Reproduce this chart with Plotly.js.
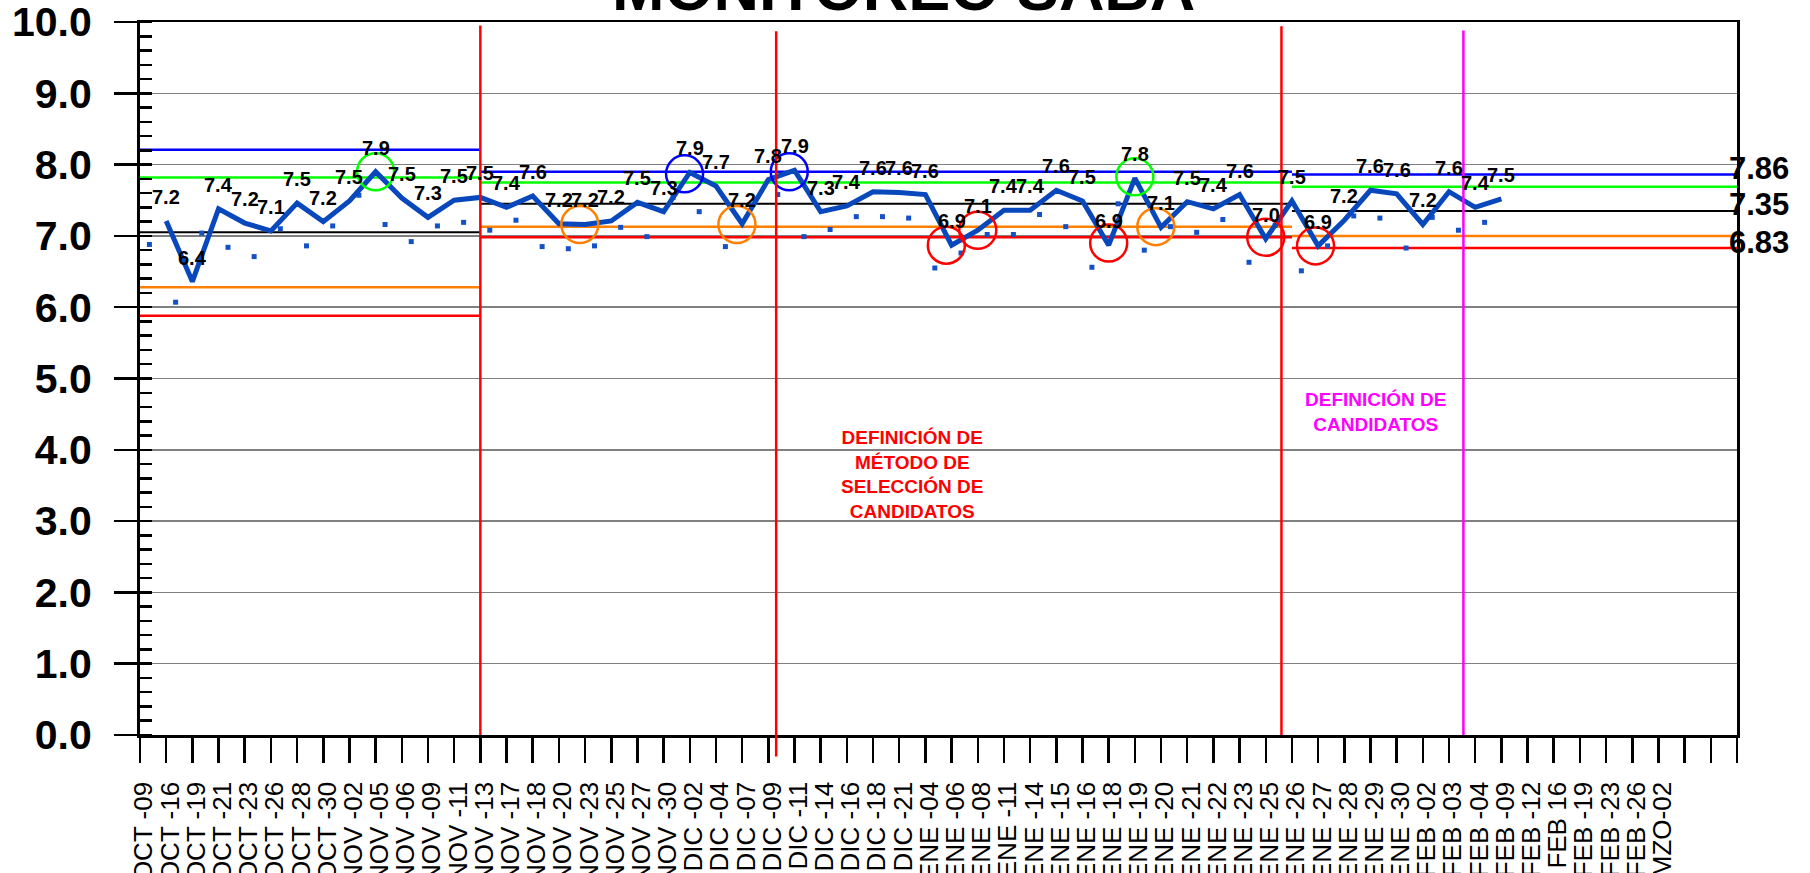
<!DOCTYPE html>
<html><head><meta charset="utf-8">
<script src="https://cdn.plot.ly/plotly-3.0.1.min.js"></script>
<style>html,body{margin:0;padding:0;background:#fff;overflow:hidden}#chart{width:1810px;height:873px}</style>
</head><body><div id="chart"></div>
<script>
// ---- data ----
const fechas = ["OCT -09","OCT -16","OCT -19","OCT -21","OCT -23","OCT -26","OCT -28","OCT -30",
 "NOV -02","NOV -05","NOV -06","NOV -09","NOV -11","NOV -13","NOV -17","NOV -18","NOV -20","NOV -23","NOV -25","NOV -27","NOV -30",
 "DIC -02","DIC -04","DIC -07","DIC -09","DIC -11","DIC -14","DIC -16","DIC -18","DIC -21",
 "ENE -04","ENE -06","ENE -08","ENE -11","ENE -14","ENE -15","ENE -16","ENE -18","ENE -19","ENE -20","ENE -21","ENE -22","ENE -23","ENE -25","ENE -26","ENE -27","ENE -28","ENE -29","ENE -30",
 "FEB -02","FEB -03","FEB -04","FEB -09","FEB -12","FEB 16","FEB -19","FEB -23","FEB -26","MZO-02"];
const promedio = [7.21,6.36,7.38,7.18,7.07,7.46,7.20,7.49,7.90,7.53,7.26,7.50,7.54,7.40,7.56,7.17,7.16,7.21,7.47,7.34,
 7.89,7.70,7.17,7.79,7.92,7.34,7.42,7.62,7.61,7.58,6.87,7.08,7.36,7.36,7.64,7.49,6.87,7.81,7.12,7.48,
 7.38,7.58,6.96,7.49,6.86,7.22,7.64,7.59,7.16,7.62,7.40,7.52];
const puntual = [6.88,6.07,7.04,6.84,6.71,7.10,6.86,7.14,7.57,7.16,6.92,7.14,7.19,7.08,7.22,6.85,6.82,6.86,7.12,6.99,
 7.54,7.34,6.85,7.43,7.58,6.99,7.09,7.27,7.27,7.25,6.55,6.76,7.02,7.02,7.30,7.13,6.56,7.45,6.80,7.13,
 7.05,7.23,6.63,7.15,6.51,6.86,7.28,7.25,6.83,7.26,7.08,7.19];
const tramoInicio = [0, 13, 44];
const tramoFin = [13, 44, 61];
const limiteSuperior = [8.21, 7.90, 7.86];
const alertaSuperior = [7.82, 7.75, 7.69];
const media = [7.05, 7.45, 7.35];
const alertaInferior = [6.28, 7.13, 7.00];
const limiteInferior = [5.88, 6.98, 6.83];
const circuloX = [9, 16.8, 20.8, 22.8, 24.8, 30.8, 32, 37, 38, 38.8, 43, 44.9];
const circuloY = [7.90, 7.16, 7.87, 7.16, 7.90, 6.87, 7.08, 6.90, 7.83, 7.13, 6.98, 6.86];
const circuloTipo = ["verde","naranja","azul","naranja","azul","rojo","rojo","rojo","verde","naranja","rojo","rojo"];
const eventoX = [13, 24.3, 43.6, 50.55];
const eventoTipo = ["rojo","rojo","rojo","magenta"];
const notaTexto = ["DEFINICIÓN DE<br>MÉTODO DE<br>SELECCIÓN DE<br>CANDIDATOS", "DEFINICIÓN DE<br>CANDIDATOS"];
const notaX = [29.5, 47.2];
const notaY = [3.66, 4.53];
const notaTipo = ["rojo","magenta"];
const etiquetasDerecha = [7.86, 7.35, 6.83];
const titulo = "MONITOREO SABA";

// ---- styles ----
const COL = {verde:"#00ff00", naranja:"#ff8000", azul:"#0000ff", rojo:"#ff0000", magenta:"#ff00ff", negro:"#000000"};
const AZUL_LINEA = "#0848bc";
const FONT = "Liberation Sans, Arial, sans-serif";
const OFFSET_PUNTUAL = 0.36;

function tramos(vals){
  const x=[], y=[];
  vals.forEach((v,i)=>{ x.push(tramoInicio[i], tramoFin[i], null); y.push(v, v, null); });
  return {x, y};
}
function lineaTramos(vals, color, w){
  const t = tramos(vals);
  return {x:t.x, y:t.y, type:"scatter", mode:"lines", line:{color:color, width:w}, hoverinfo:"skip"};
}

const xProm = promedio.map((v,i)=>i+1);
const xPunt = puntual.map((v,i)=>i+OFFSET_PUNTUAL);

const traces = [
  lineaTramos(limiteSuperior, COL.azul, 2.5),
  lineaTramos(alertaSuperior, COL.verde, 2.5),
  lineaTramos(media, COL.negro, 2),
  lineaTramos(alertaInferior, COL.naranja, 2.5),
  lineaTramos(limiteInferior, COL.rojo, 2.5),
  {x:xPunt, y:puntual, type:"scatter", mode:"markers", marker:{symbol:"square", size:5, color:"#1450c8"}, hoverinfo:"skip"},
  {x:xProm, y:promedio, type:"scatter", mode:"lines", line:{color:AZUL_LINEA, width:5}, hoverinfo:"skip"},
  {x:circuloX, y:circuloY, type:"scatter", mode:"markers", cliponaxis:false,
   marker:{symbol:"circle-open", size:37, color:circuloTipo.map(t=>COL[t]), line:{width:2.5}}, hoverinfo:"skip"}
];

const annotations = [];
promedio.forEach((v,i)=>{
  annotations.push({x:xProm[i], y:v, xref:"x", yref:"y", text:v.toFixed(1), showarrow:false, yshift:24,
    font:{family:FONT, size:20, color:"#000", weight:"bold"}});
});
etiquetasDerecha.forEach(v=>{
  annotations.push({x:1, y:v, xref:"paper", yref:"y", text:v.toFixed(2), showarrow:false, xanchor:"left", xshift:-10, yshift:6,
    font:{family:FONT, size:31, color:"#000", weight:"bold"}});
});
notaTexto.forEach((t,i)=>{
  annotations.push({x:notaX[i], y:notaY[i], xref:"x", yref:"y", text:t, showarrow:false, align:"center",
    font:{family:FONT, size:19, color:COL[notaTipo[i]], weight:"bold"}});
});
annotations.push({x:0.478, y:1, xref:"paper", yref:"paper", text:titulo, showarrow:false, yanchor:"bottom", yshift:-3,
  font:{family:FONT, size:63, color:"#000", weight:"bold"}});

const eventoTop = [0.995, 0.987, 0.994, 0.988];
const eventoBottom = [0, -0.03, 0, 0];
const shapes = eventoX.map((x,i)=>({type:"line", xref:"x", yref:"paper", x0:x, x1:x, y0:eventoBottom[i], y1:eventoTop[i],
  line:{color:COL[eventoTipo[i]], width:2.5}, layer:"above"}));

const tickvals = [], ticktext = [];
for (let i=0;i<=61;i++){ tickvals.push(i); ticktext.push(i<fechas.length?fechas[i]:""); }

const layout = {
  width:1810, height:873, margin:{l:140, r:73, t:22, b:138},
  paper_bgcolor:"#fff", plot_bgcolor:"#fff", showlegend:false, hovermode:false,
  xaxis:{range:[0,61], tickmode:"array", tickvals:tickvals, ticktext:ticktext, tickangle:-90,
    ticks:"outside", ticklen:25, tickwidth:2.5, tickcolor:"#000", showgrid:false, zeroline:false,
    showline:true, linecolor:"#000", linewidth:2.5, mirror:true, ticklabelstandoff:9, ticklabelshift:4,
    ticklabeloverflow:"allow", tickfont:{family:FONT, size:26, color:"#000"}},
  yaxis:{range:[0,10], tickmode:"linear", tick0:0, dtick:1, tickformat:".1f",
    ticks:"outside", ticklen:23, tickwidth:2.5, tickcolor:"#000",
    minor:{dtick:0.2, ticks:"inside", ticklen:12, tickwidth:2.5, tickcolor:"#000", showgrid:false},
    showgrid:true, gridcolor:"#808080", gridwidth:1.5, zeroline:false,
    showline:true, linecolor:"#000", linewidth:3, mirror:true, ticklabelstandoff:14,
    ticklabeloverflow:"allow", tickfont:{family:FONT, size:41, color:"#000", weight:"bold"}},
  annotations:annotations, shapes:shapes
};
Plotly.newPlot("chart", traces, layout, {staticPlot:true, displayModeBar:false});
</script></body></html>
